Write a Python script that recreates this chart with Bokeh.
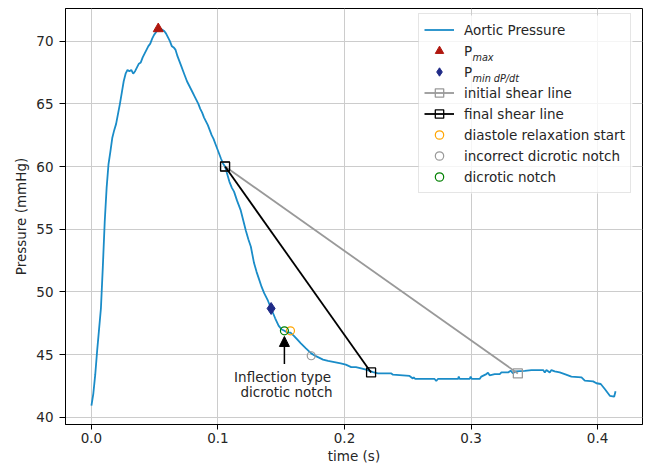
from bokeh.plotting import figure
from bokeh.models import (Range1d, Legend, LegendItem, Label, Arrow, NormalHead,
                          FixedTicker, PrintfTickFormatter, BoxAnnotation)
from bokeh.embed import file_html
from bokeh.resources import INLINE

# ---------------- data ----------------
time_s = [0.000, 0.0015, 0.003, 0.0045, 0.006, 0.0075, 0.009, 0.0105, 0.012, 0.0135,
          0.015, 0.0165, 0.018, 0.0195, 0.021, 0.0225, 0.024, 0.0255, 0.027, 0.0285,
          0.030, 0.0315, 0.033, 0.0345, 0.036, 0.0375, 0.039, 0.0405, 0.042, 0.0435,
          0.045, 0.0465, 0.048, 0.0495, 0.051, 0.0528, 0.0545, 0.056, 0.0575, 0.059,
          0.0605, 0.062, 0.0635, 0.065, 0.0665, 0.068, 0.0695, 0.071, 0.0725, 0.074,
          0.0755, 0.077, 0.0785, 0.080, 0.0815, 0.083, 0.0845, 0.086, 0.0875, 0.089,
          0.0905, 0.092, 0.0935, 0.095, 0.0965, 0.098, 0.0995, 0.101, 0.1025, 0.104,
          0.1056, 0.107, 0.109, 0.111, 0.1127, 0.115, 0.118, 0.120, 0.122, 0.124,
          0.126, 0.1285, 0.1305, 0.1325, 0.1345, 0.1365, 0.1395, 0.142, 0.1452, 0.148,
          0.1505, 0.1525, 0.155, 0.1573, 0.160, 0.1628, 0.1655, 0.1695, 0.1737, 0.177,
          0.179, 0.183, 0.187, 0.192, 0.197, 0.201, 0.2053, 0.209, 0.2132, 0.217,
          0.2198, 0.2226, 0.2264, 0.237, 0.2383, 0.2514, 0.2527, 0.254, 0.2547, 0.2559,
          0.2712, 0.2725, 0.2738, 0.2897, 0.2903, 0.2910, 0.2989, 0.2997, 0.3005, 0.3068,
          0.3081, 0.3121, 0.3134, 0.3147, 0.3187, 0.3227, 0.324, 0.3293, 0.3313, 0.3332,
          0.3348, 0.3424, 0.3477, 0.357, 0.3583, 0.3596, 0.3622, 0.3635, 0.3661, 0.3701,
          0.374, 0.3793, 0.3873, 0.3899, 0.3965, 0.3991, 0.4025, 0.4057, 0.4097, 0.4131,
          0.4142]
pressure = [40.93, 41.9, 43.4, 45.3, 47.0, 48.7, 52.0, 55.6, 58.3, 60.2,
            61.2, 62.3, 62.9, 63.4, 64.2, 65.0, 65.9, 66.8, 67.4, 67.7,
            67.6, 67.7, 67.4, 67.6, 67.9, 68.2, 68.3, 68.7, 69.0, 69.3,
            69.6, 69.8, 70.2, 70.5, 70.7, 71.0, 71.0, 70.9, 70.8, 70.6,
            70.3, 70.0, 69.6, 69.5, 69.3, 68.8, 68.4, 68.0, 67.6, 67.2,
            66.8, 66.5, 66.2, 65.9, 65.6, 65.3, 65.0, 64.6, 64.3, 63.9,
            63.6, 63.3, 62.9, 62.5, 62.2, 61.8, 61.4, 61.0, 60.6, 60.25,
            60.0, 59.5, 58.8, 58.3, 58.0, 57.3, 56.5, 55.7, 54.9, 54.2,
            53.6, 52.3, 51.6, 51.0, 50.4, 49.9, 49.3, 48.68, 47.9, 47.3,
            47.0, 46.9, 46.75, 46.75, 46.5, 46.2, 45.9, 45.5, 45.1, 44.9,
            44.8, 44.6, 44.5, 44.4, 44.3, 44.2, 44.0, 44.0, 43.9, 43.8,
            43.7, 43.6, 43.5, 43.5, 43.4, 43.3, 43.2, 43.1, 43.2, 43.06,
            43.06, 42.9, 43.06, 43.06, 43.25, 43.06, 43.06, 43.25, 43.06, 43.06,
            43.25, 43.45, 43.55, 43.35, 43.45, 43.45, 43.58, 43.58, 43.72, 43.5,
            43.66, 43.71, 43.77, 43.77, 43.58, 43.77, 43.58, 43.77, 43.66, 43.58,
            43.45, 43.25, 43.19, 42.93, 42.87, 42.72, 42.66, 42.26, 41.72, 41.65,
            42.08]

pmax_t = [0.0528]
pmax_p = [70.98]
pmin_t = [0.1420]
pmin_p = [48.68]
initial_shear_t = [0.1056, 0.3370]
initial_shear_p = [60.0, 43.5]
final_shear_t = [0.1056, 0.2210]
final_shear_p = [60.0, 43.58]
relax_t = [0.1573]
relax_p = [46.9]
wrong_notch_t = [0.1737]
wrong_notch_p = [44.91]
notch_t = [0.1525]
notch_p = [46.9]

x_ticks = [0.0, 0.1, 0.2, 0.3, 0.4]
y_ticks = [40, 45, 50, 55, 60, 65, 70]

XR = (-0.0205, 0.4355)
YR = (39.43, 72.6)

FONT = "DejaVu Sans"
FS = "13.5px"
TXT = "#262626"

# frame geometry (page pixels)
FL, FR, FT, FB = 65, 642, 8, 424
# legend box (page pixels)
LG_L, LG_T, LG_H, LG_R = 418, 15, 178, 632

# ---------------- figure ----------------
p = figure(width=650, height=467, x_range=Range1d(*XR), y_range=Range1d(*YR),
           output_backend="svg", toolbar_location=None,
           min_border_left=FL, min_border_right=650 - FR, min_border_top=FT,
           min_border_bottom=467 - FB)
p.background_fill_color = "white"
p.border_fill_color = "white"
p.outline_line_color = "black"
p.outline_line_width = 1

for ax in (p.xaxis[0], p.yaxis[0]):
    ax.axis_line_color = "black"
    ax.major_tick_line_color = "black"
    ax.minor_tick_line_color = None
    ax.major_tick_in = 0
    ax.major_label_text_font = FONT
    ax.major_label_text_font_size = FS
    ax.major_label_text_color = TXT
    ax.axis_label_text_font = FONT
    ax.axis_label_text_font_size = FS
    ax.axis_label_text_font_style = "normal"
    ax.axis_label_text_color = TXT

p.xaxis.ticker = FixedTicker(ticks=x_ticks)
p.yaxis.ticker = FixedTicker(ticks=y_ticks)
p.xaxis.formatter = PrintfTickFormatter(format="%.1f")
p.yaxis.formatter = PrintfTickFormatter(format="%d")
p.xaxis.axis_label = "time (s)"
p.yaxis.axis_label = "Pressure (mmHg)"
p.xaxis.major_tick_out = 5
p.xaxis.major_label_standoff = 3
p.xaxis.axis_label_standoff = 2
p.yaxis.major_tick_out = 6
p.yaxis.major_label_standoff = 6
p.yaxis.axis_label_standoff = 4

p.grid.grid_line_color = "#cccccc"
p.grid.grid_line_width = 1


def px2x(px):
    return XR[0] + (px - FL) / (FR - FL) * (XR[1] - XR[0])


def py2y(py):
    return YR[1] - (py - FT) / (FB - FT) * (YR[1] - YR[0])


# translucent white panel behind the legend (legend itself is transparent)
p.add_layout(BoxAnnotation(left=px2x(LG_L), right=px2x(LG_R), top=py2y(LG_T),
                           bottom=py2y(LG_T + LG_H), fill_color="white",
                           fill_alpha=0.8, line_alpha=0, level="underlay"))

# ---------------- glyphs ----------------
curve = p.line(time_s, pressure, line_color="#1a8cc8", line_width=1.8)
init_line = p.line(initial_shear_t, initial_shear_p, line_color="#999999", line_width=1.8)
init_sq = p.scatter(initial_shear_t, initial_shear_p, marker="square", size=9,
                    fill_alpha=0, line_color="#999999", line_width=1.3)
final_line = p.line(final_shear_t, final_shear_p, line_color="black", line_width=1.8)
final_sq = p.scatter(final_shear_t, final_shear_p, marker="square", size=9,
                     fill_alpha=0, line_color="black", line_width=1.3)
tri = p.scatter(pmax_t, pmax_p, marker="triangle", size=10,
                fill_color="#b0170e", line_color="#b0170e")
dia = p.scatter(pmin_t, pmin_p, marker="diamond", size=12,
                fill_color="#1f2a87", line_color="#1f2a87")
c_relax = p.scatter(relax_t, relax_p, marker="circle", size=8, fill_alpha=0,
                    line_color="orange", line_width=1.2)
c_wrong = p.scatter(wrong_notch_t, wrong_notch_p, marker="circle", size=8, fill_alpha=0,
                    line_color="#999999", line_width=1.2)
c_notch = p.scatter(notch_t, notch_p, marker="circle", size=8, fill_alpha=0,
                    line_color="green", line_width=1.2)

# ---------------- annotation ----------------
p.add_layout(Arrow(x_start=notch_t[0], y_start=44.25, x_end=notch_t[0], y_end=46.45,
                   line_color="black", line_width=1.5,
                   end=NormalHead(size=10, fill_color="black", line_color="black")))
p.add_layout(Label(x=0.1511, y=43.2, text="Inflection type", text_align="center",
                   text_baseline="middle", text_font=FONT, text_font_size=FS,
                   text_color=TXT))
p.add_layout(Label(x=0.1542, y=42.0, text="dicrotic notch", text_align="center",
                   text_baseline="middle", text_font=FONT, text_font_size=FS,
                   text_color=TXT))

# ---------------- legend ----------------
items = [
    LegendItem(label="Aortic Pressure", renderers=[curve]),
    LegendItem(label="P", renderers=[tri]),
    LegendItem(label="P", renderers=[dia]),
    LegendItem(label="initial shear line", renderers=[init_line, init_sq]),
    LegendItem(label="final shear line", renderers=[final_line, final_sq]),
    LegendItem(label="diastole relaxation start", renderers=[c_relax]),
    LegendItem(label="incorrect dicrotic notch", renderers=[c_wrong]),
    LegendItem(label="dicrotic notch", renderers=[c_notch]),
]
legend = Legend(items=items, location=(LG_L - FL, (FB - FT) - (LG_T - FT) - LG_H),
                padding=5, spacing=0, margin=0,
                glyph_width=30, glyph_height=21, label_height=21, label_standoff=10,
                label_text_font=FONT, label_text_font_size=FS, label_text_color=TXT,
                border_line_color="#cccccc", border_line_width=1,
                background_fill_alpha=0)
p.add_layout(legend)

p.add_layout(Label(x=px2x(472), y=py2y(57), text="max", text_font=FONT,
                   text_font_style="italic", text_font_size="9.7px",
                   text_baseline="alphabetic", text_color=TXT, level="overlay"))
p.add_layout(Label(x=px2x(472), y=py2y(78), text="min dP/dt", text_font=FONT,
                   text_font_style="italic", text_font_size="9.7px",
                   text_baseline="alphabetic", text_color=TXT, level="overlay"))

open("out.html", "w").write(file_html(p, INLINE))
